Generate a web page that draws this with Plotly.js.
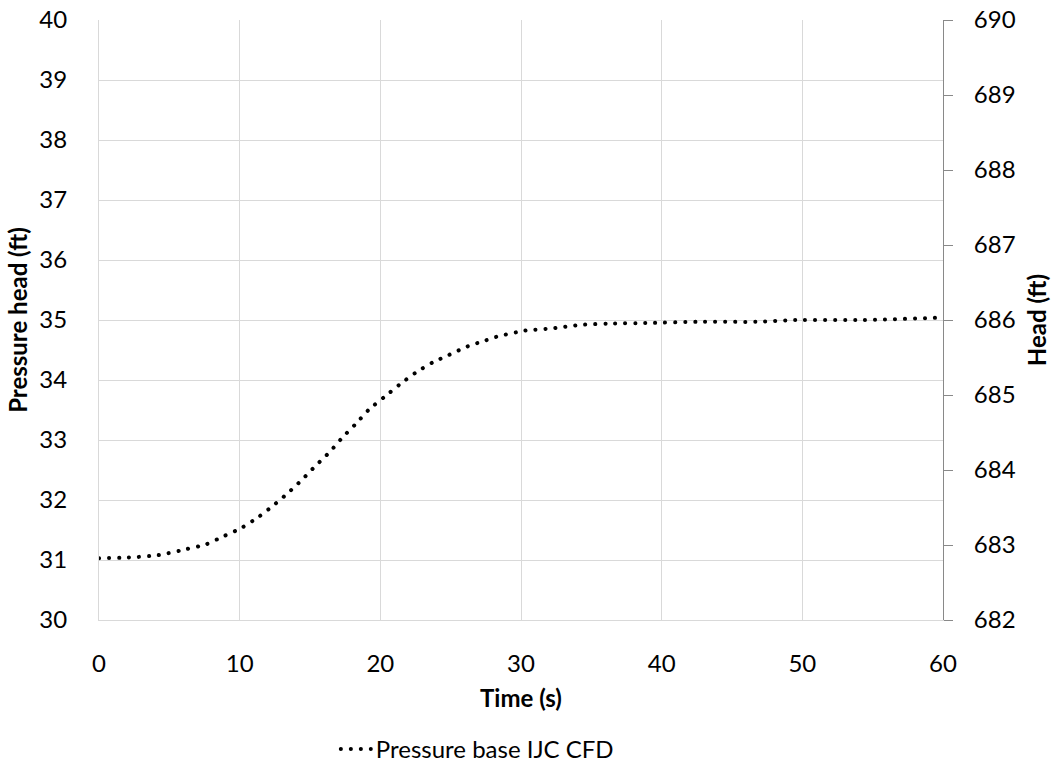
<!DOCTYPE html>
<html>
<head>
<meta charset="utf-8">
<script src="https://cdn.plot.ly/plotly-3.0.1.min.js"></script>
<style>
  body { margin: 0; background: #fff; }
  #chart { width: 1056px; height: 770px; }
  .scatterlayer path.js-line { stroke-linecap: round; }
  .legend .legendlines path { stroke-linecap: round; }
</style>
</head>
<body>
<div id="chart"></div>
<script>
// Time (s)
const timeS = [0, 2, 4.2, 6.2, 7.6, 8.8, 10.1, 11.3, 12.4, 13.4, 14.4, 15.4, 16.4, 17.3, 18.3, 19.2, 20.3, 21.4, 22.5, 23.7, 24.9, 26.2, 27.5, 28.1, 30.2, 32.2, 34.3, 36.2, 39.1, 42.6, 46.7, 49.5, 54.3, 60];
// Pressure head (ft)
const pressureHead = [31.03, 31.04, 31.08, 31.18, 31.26, 31.39, 31.53, 31.71, 31.91, 32.11, 32.33, 32.57, 32.80, 33.04, 33.28, 33.51, 33.72, 33.93, 34.12, 34.29, 34.42, 34.56, 34.66, 34.71, 34.82, 34.86, 34.92, 34.94, 34.95, 34.97, 34.97, 35.00, 35.00, 35.04];
const seriesName = "Pressure base IJC CFD";
const leftTicks = [30, 31, 32, 33, 34, 35, 36, 37, 38, 39, 40];
const rightTicks = [682, 683, 684, 685, 686, 687, 688, 689, 690];
const xTicks = [0, 10, 20, 30, 40, 50, 60];

const font = "Lato, 'Open Sans', 'Liberation Sans', sans-serif";
const tickSize = 24;
const titleSize = 24;

const traces = [
  {
    x: timeS, y: pressureHead, name: seriesName, type: "scatter", mode: "lines",
    line: { color: "#000000", width: 4, dash: "0.1px,9.9px", shape: "spline", smoothing: 0.6 },
    yaxis: "y"
  },
  {
    x: [0], y: [682], yaxis: "y2", type: "scatter", mode: "markers",
    marker: { opacity: 0 }, showlegend: false, hoverinfo: "skip"
  }
];

const layout = {
  width: 1056, height: 770,
  margin: { l: 99, r: 113, t: 20, b: 150 },
  paper_bgcolor: "#ffffff", plot_bgcolor: "#ffffff",
  font: { family: font, size: tickSize, color: "#000000" },
  showlegend: true,
  legend: {
    orientation: "h", xref: "container", yref: "container",
    x: 0.318, xanchor: "left", y: 0.056, yanchor: "top",
    font: { family: font, size: tickSize, color: "#000" }
  },
  xaxis: {
    range: [0, 60], tickvals: xTicks, ticktext: xTicks.map(String),
    showgrid: true, gridcolor: "#d9d9d9", gridwidth: 1,
    showline: true, linecolor: "#d9d9d9", linewidth: 1,
    ticks: "", zeroline: false, automargin: false,
    ticklabelstandoff: 22,
    title: { text: "<b>Time (s)</b>", font: { family: font, size: titleSize }, standoff: 14 },
    tickfont: { family: font, size: tickSize }
  },
  yaxis: {
    range: [30, 40], tickvals: leftTicks, ticktext: leftTicks.map(String),
    showgrid: true, gridcolor: "#d9d9d9", gridwidth: 1,
    showline: true, linecolor: "#d9d9d9", linewidth: 1,
    ticks: "", zeroline: false, automargin: false,
    ticklabelstandoff: 26,
    title: { text: "<b>Pressure head (ft)</b>", font: { family: font, size: titleSize }, standoff: 4 },
    tickfont: { family: font, size: tickSize }
  },
  yaxis2: {
    range: [682, 690], tickvals: rightTicks, ticktext: rightTicks.map(String),
    overlaying: "y", side: "right", anchor: "x",
    showgrid: false, zeroline: false, automargin: false,
    showline: true, linecolor: "#898989", linewidth: 1,
    ticks: "outside", ticklen: 9, tickcolor: "#898989",
    ticklabelstandoff: 16,
    title: { text: "<b>Head (ft)</b>", font: { family: font, size: titleSize }, standoff: 14 },
    tickfont: { family: font, size: tickSize }
  }
};

Plotly.newPlot("chart", traces, layout, { displayModeBar: false, staticPlot: true });
</script>
</body>
</html>
